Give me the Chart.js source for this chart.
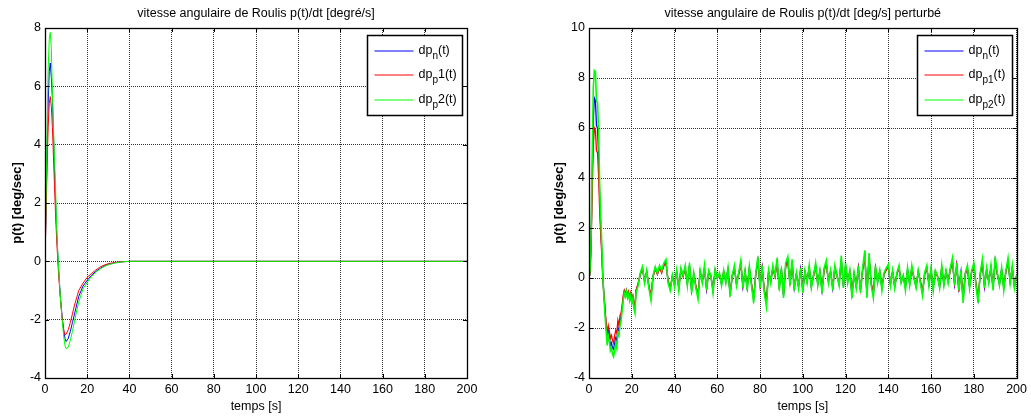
<!DOCTYPE html>
<html>
<head>
<meta charset="utf-8">
<script src="https://cdn.jsdelivr.net/npm/chart.js@4.4.1/dist/chart.umd.min.js"></script>
<style>
html, body { margin: 0; padding: 0; background: #fff; }
#wrap { position: relative; width: 1031px; height: 418px; overflow: hidden; }
canvas { position: absolute; top: 0; }
#c1 { left: 0; }
#c2 { left: 520px; }
</style>
</head>
<body>
<div id="wrap">
  <canvas id="c1" width="520" height="418"></canvas>
  <canvas id="c2" width="511" height="418"></canvas>
</div>
<script>
// ---- left plot: nominal response ----
const tLeft = [0, 0.5, 1, 1.5, 2, 2.5, 3, 3.5, 4, 4.5, 5, 5.5, 6, 6.5, 7, 7.5, 8, 8.5, 9, 9.5,
  10, 11, 12, 13, 14, 15, 16, 18, 20, 22, 24, 26, 28, 30, 33, 36, 40, 200];
const leftBlue = [0, 1.8, 3.8, 5.4, 6.5, 6.8, 6.3, 5.6, 4.4, 3.2, 2.1, 1.1, 0.3, -0.3, -0.9, -1.4, -1.8, -2.15, -2.45, -2.65,
  -2.75, -2.65, -2.4, -2.1, -1.8, -1.5, -1.2, -0.85, -0.65, -0.48, -0.35, -0.25, -0.16, -0.1, -0.05, -0.02, 0, 0];
const leftRed = [0, 1.6, 3.3, 4.6, 5.4, 5.65, 5.3, 4.6, 3.6, 2.6, 1.6, 0.8, 0.1, -0.5, -1.0, -1.45, -1.85, -2.15, -2.4, -2.52,
  -2.5, -2.35, -2.1, -1.8, -1.5, -1.25, -1.0, -0.75, -0.55, -0.42, -0.3, -0.2, -0.13, -0.08, -0.04, -0.015, 0, 0];
const leftGreen = [0, 2.2, 4.6, 6.6, 7.6, 7.85, 7.3, 5.8, 4.6, 3.5, 2.55, 1.2, 0.4, -0.3, -0.9, -1.45, -1.9, -2.3, -2.65, -2.9,
  -3.0, -2.95, -2.7, -2.4, -2.05, -1.7, -1.4, -0.95, -0.72, -0.52, -0.38, -0.27, -0.18, -0.12, -0.06, -0.02, 0, 0];
const leftLabels = ['dp_{n}(t)', 'dp_{p}1(t)', 'dp_{p}2(t)'];

// ---- right plot: disturbed response (0..22 s every 0.5 s, then every 1 s) ----
const tRight = [];
for (let i = 0; i <= 44; i++) tRight.push(i * 0.5);
for (let t = 23; t <= 200; t++) tRight.push(t);

const rightBlue = [
  0, 0.2, 1.5, 4.0, 6.3, 7.2, 7.1, 6.1, 6.0, 4.9, 3.2, 2.0, 1.1, 0.0, -0.7, -1.3, -1.9, -2.5, -2.1, -2.3,
  -2.7, -2.6, -2.8, -2.85, -2.6, -2.4, -2.5, -2.0, -2.1, -1.75, -1.55, -1.2, -0.8, -0.55, -0.7, -0.5, -0.75, -0.6, -0.85, -0.65,
  -0.9, -0.75, -1.1, -1.2, -0.5,
  -0.25, 0.15, 0.4, -0.15, 0.25, -0.35, -0.75, 0.1, 0.4, 0.15,
  0.4, 0.25, 0.5, 0.65, -0.15, -0.45, 0.1, -0.3, 0.25, -0.4,
  0.35, 0.1, 0.4, -0.25, 0.5, -0.5, 0.15, -0.35, -0.7, 0.25,
  -0.15, 0.4, -0.45, 0.25, 0.1, -0.5, 0.3, 0.0, 0.15, -0.25,
  0.25, -0.15, 0.35, -0.65, 0.1, 0.4, -0.25, 0.15, 0.6, -0.35,
  0.25, -0.4, 0.4, -0.25, -0.85, 0.15, 0.7, -0.35, 0.4, -0.5,
  -0.95, 0.25, -0.15, 0.4, 0.1, 0.65, -0.4, 0.35, -0.7, 0.5,
  0.7, -0.25, 0.6, -0.4, 0.15, -0.35, 0.35, -0.5, 0.25, -0.15,
  0.4, -0.35, 0.1, 0.5, -0.25, 0.25, -0.5, 0.35, 0.6, -0.15,
  0.25, -0.4, 0.4, 0.1, -0.25, 0.75, -0.35, 0.5, -0.15, 0.25,
  -0.65, 0.15, -0.35, 0.4, -0.5, 0.35, 0.9, -0.65, 0.85, -0.25,
  -0.65, 0.4, -0.15, 0.25, -0.4, 0.15, 0.35, 0.45, -0.25, 0.25,
  -0.35, 0.15, 0.4, -0.15, 0.1, -0.4, 0.35, -0.25, 0.4, 0.0,
  -0.35, 0.25, -0.15, -0.6, 0.15, 0.4, -0.25, 0.35, -0.4, 0.25,
  0.1, -0.35, 0.4, -0.25, 0.25, -0.15, 0.35, 0.65, -0.25, 0.5,
  -0.4, 0.25, -0.85, 0.15, 0.4, -0.35, 0.25, 0.5, -0.25, -0.85,
  0.15, 0.6, -0.35, 0.35, -0.15, 0.4, -0.4, 0.7, 0.15, -0.25,
  0.35, -0.4, 0.25, 0.65, -0.15, 0.4, -0.35, 0.1];
const rightRed = [
  0, 0.2, 1.3, 3.4, 5.3, 6.0, 5.9, 5.1, 5.0, 4.1, 2.7, 1.7, 0.9, -0.1, -0.7, -1.2, -1.8, -2.2, -1.9, -2.1,
  -2.4, -2.3, -2.5, -2.6, -2.3, -2.1, -2.2, -1.7, -1.9, -1.5, -1.4, -1.1, -0.7, -0.5, -0.65, -0.5, -0.7, -0.55, -0.8, -0.6,
  -0.85, -0.7, -1.0, -1.1, -0.5,
  -0.2, 0.15, 0.35, -0.1, 0.25, -0.3, -0.7, 0.05, 0.35, 0.15,
  0.4, 0.2, 0.5, 0.6, -0.1, -0.4, 0.05, -0.25, 0.25, -0.35,
  0.3, 0.05, 0.4, -0.2, 0.45, -0.45, 0.15, -0.3, -0.65, 0.25,
  -0.1, 0.35, -0.4, 0.25, 0.05, -0.45, 0.3, 0.0, 0.15, -0.2,
  0.25, -0.1, 0.3, -0.6, 0.05, 0.4, -0.2, 0.15, 0.55, -0.3,
  0.25, -0.35, 0.35, -0.2, -0.8, 0.15, 0.7, -0.3, 0.4, -0.45,
  -0.9, 0.25, -0.1, 0.4, 0.05, 0.6, -0.35, 0.3, -0.65, 0.45,
  0.65, -0.2, 0.6, -0.35, 0.15, -0.3, 0.3, -0.45, 0.25, -0.1,
  0.4, -0.3, 0.05, 0.45, -0.2, 0.25, -0.45, 0.3, 0.55, -0.1,
  0.25, -0.35, 0.4, 0.05, -0.2, 0.7, -0.3, 0.45, -0.1, 0.25,
  -0.6, 0.15, -0.3, 0.4, -0.45, 0.3, 0.85, -0.6, 0.8, -0.2,
  -0.6, 0.4, -0.1, 0.25, -0.35, 0.15, 0.3, 0.45, -0.2, 0.25,
  -0.3, 0.15, 0.4, -0.1, 0.05, -0.35, 0.3, -0.2, 0.4, 0.0,
  -0.3, 0.25, -0.1, -0.55, 0.15, 0.4, -0.2, 0.3, -0.35, 0.25,
  0.05, -0.3, 0.4, -0.2, 0.25, -0.1, 0.3, 0.65, -0.2, 0.5,
  -0.55, 0.25, -0.8, 0.15, 0.4, -0.3, 0.25, 0.5, -0.2, -0.8,
  0.15, 0.6, -0.3, 0.3, -0.1, 0.4, -0.35, 0.7, 0.15, -0.2,
  0.3, -0.35, 0.25, 0.65, -0.1, 0.4, -0.3, 0.05];
const rightGreen = [
  0, 0.3, 1.8, 4.8, 7.6, 8.3, 8.25, 7.1, 7.0, 5.9, 3.7, 2.4, 1.3, 0.0, -0.8, -1.5, -2.1, -2.7, -2.3, -2.5,
  -2.9, -2.8, -3.05, -3.15, -2.9, -2.6, -2.8, -2.2, -2.3, -1.9, -1.7, -1.3, -0.9, -0.6, -0.75, -0.55, -0.8, -0.65, -0.9, -0.7,
  -1.0, -0.8, -1.2, -1.4, -0.6,
  -0.3, 0.2, 0.45, -0.2, 0.3, -0.4, -0.9, 0.1, 0.45, 0.2,
  0.5, 0.3, 0.6, 0.75, -0.2, -0.5, 0.1, -0.35, 0.3, -0.5,
  0.4, 0.1, 0.5, -0.3, 0.6, -0.6, 0.2, -0.4, -0.85, 0.3,
  -0.2, 0.5, -0.5, 0.3, 0.1, -0.6, 0.35, 0.0, 0.2, -0.3,
  0.3, -0.2, 0.4, -0.75, 0.1, 0.5, -0.3, 0.2, 0.7, -0.4,
  0.3, -0.5, 0.45, -0.3, -1.0, 0.2, 0.85, -0.4, 0.5, -0.6,
  -1.15, 0.3, -0.2, 0.5, 0.1, 0.8, -0.5, 0.4, -0.8, 0.6,
  0.85, -0.3, 0.75, -0.5, 0.2, -0.4, 0.4, -0.6, 0.3, -0.2,
  0.5, -0.4, 0.1, 0.6, -0.3, 0.3, -0.6, 0.4, 0.7, -0.2,
  0.3, -0.5, 0.5, 0.1, -0.3, 0.9, -0.4, 0.6, -0.2, 0.3,
  -0.8, 0.2, -0.4, 0.5, -0.6, 0.4, 1.1, -0.8, 1.0, -0.3,
  -0.8, 0.5, -0.2, 0.3, -0.5, 0.2, 0.4, 0.55, -0.3, 0.3,
  -0.4, 0.2, 0.5, -0.2, 0.1, -0.5, 0.4, -0.3, 0.5, 0.0,
  -0.4, 0.3, -0.2, -0.7, 0.2, 0.5, -0.3, 0.4, -0.5, 0.3,
  0.1, -0.4, 0.5, -0.3, 0.3, -0.2, 0.4, 0.8, -0.3, 0.6,
  -0.5, 0.3, -1.0, 0.2, 0.5, -0.4, 0.3, 0.6, -0.3, -1.0,
  0.2, 0.75, -0.4, 0.4, -0.2, 0.5, -0.5, 0.85, 0.2, -0.3,
  0.4, -0.5, 0.3, 0.8, -0.2, 0.5, -0.4, 0.1];
const rightLabels = ['dp_{n}(t)', 'dp_{p1}(t)', 'dp_{p2}(t)'];

const xTicks = [0, 200, 20];
const FONT = 'Arial, "Liberation Sans", Helvetica, sans-serif';
const COLORS = ['#0000ff', '#ff0000', '#00ff00'];

function pts(ts, ys) { return ts.map((t, i) => ({ x: t, y: ys[i] })); }

// box with inward ticks (matlab style) + legend with subscripts
const framePlugin = {
  id: 'frame',
  afterDatasetsDraw(chart) {
    const { ctx, chartArea: a, scales } = chart;
    ctx.save();
    ctx.setLineDash([]);
    ctx.strokeStyle = '#000';
    ctx.lineWidth = 1;
    ctx.beginPath();
    scales.x.ticks.forEach(tk => {
      const px = Math.round(scales.x.getPixelForValue(tk.value)) + 0.5;
      ctx.moveTo(px, a.bottom); ctx.lineTo(px, a.bottom - 4);
      ctx.moveTo(px, a.top); ctx.lineTo(px, a.top + 4);
    });
    scales.y.ticks.forEach(tk => {
      const py = Math.round(scales.y.getPixelForValue(tk.value)) + 0.5;
      ctx.moveTo(a.left, py); ctx.lineTo(a.left + 4, py);
      ctx.moveTo(a.right, py); ctx.lineTo(a.right - 4, py);
    });
    ctx.stroke();
    ctx.lineWidth = 1.3;
    ctx.strokeRect(Math.round(a.left) + 0.5, Math.round(a.top) + 0.5, Math.round(a.width), Math.round(a.height));

    // legend
    const w = 95, h = 80;
    const x0 = Math.round(a.right - w - 5) + 0.5, y0 = Math.round(a.top + 7) + 0.5;
    ctx.fillStyle = '#fff';
    ctx.fillRect(x0, y0, w, h);
    ctx.lineWidth = 1.5;
    ctx.strokeRect(x0, y0, w, h);
    chart.data.datasets.forEach((ds, i) => {
      const y = Math.round(y0 + 15 + i * 24.5);
      ctx.beginPath();
      ctx.strokeStyle = COLORS[i];
      ctx.lineWidth = 1;
      ctx.moveTo(x0 + 7, y); ctx.lineTo(x0 + 46, y);
      ctx.stroke();
      const m = ds.label.match(/^(.*?)_\{(.*?)\}(.*)$/);
      ctx.fillStyle = '#000';
      ctx.textBaseline = 'middle';
      let tx = x0 + 51;
      ctx.font = '12.5px ' + FONT;
      ctx.fillText(m[1], tx, y); tx += ctx.measureText(m[1]).width;
      ctx.font = '10px ' + FONT;
      ctx.fillText(m[2], tx, y + 5); tx += ctx.measureText(m[2]).width;
      ctx.font = '12.5px ' + FONT;
      ctx.fillText(m[3], tx, y);
    });
    ctx.restore();
  }
};

function makeChart(id, t, blue, red, green, labels, yMin, yMax, title, yAxisW, padRight, yTitlePad, noisy) {
  const series = [blue, red, green];
  return new Chart(document.getElementById(id), {
    type: 'line',
    data: {
      datasets: series.map((s, i) => ({
        label: labels[i],
        data: pts(t, s),
        borderColor: COLORS[i],
        borderWidth: noisy ? (i === 2 ? 1.6 : 1.3) : 1,
        pointRadius: 0,
        tension: 0,
        order: 3 - i
      }))
    },
    options: {
      responsive: false,
      animation: false,
      events: [],
      layout: { padding: { left: 0, right: padRight, top: 0, bottom: 0 } },
      plugins: {
        legend: { display: false },
        tooltip: { enabled: false },
        title: {
          display: true, text: title, color: '#000', fullSize: false,
          font: { family: FONT, size: 12.5, weight: 'normal' },
          padding: { top: 6.5, bottom: 6.5 }
        }
      },
      scales: {
        x: {
          type: 'linear', min: xTicks[0], max: xTicks[1],
          afterFit(s) { s.height = 40; },
          ticks: { stepSize: xTicks[2], color: '#000', padding: 4, maxRotation: 0, font: { family: FONT, size: 12.5 } },
          grid: { color: '#333', lineWidth: 1, drawTicks: false },
          border: { display: false, dash: [1, 1] },
          title: { display: true, text: 'temps [s]', color: '#000', font: { family: FONT, size: 12.5 }, padding: { top: 0, bottom: 3.5 } }
        },
        y: {
          min: yMin, max: yMax,
          afterFit(s) { s.width = yAxisW; },
          ticks: { stepSize: 2, color: '#000', padding: 4, font: { family: FONT, size: 12.5 } },
          grid: { color: '#333', lineWidth: 1, drawTicks: false },
          border: { display: false, dash: [1, 1] },
          title: { display: true, text: 'p(t) [deg/sec]', color: '#000', font: { family: FONT, size: 13, weight: 'bold' }, padding: { top: yTitlePad, bottom: 0 } }
        }
      }
    },
    plugins: [framePlugin]
  });
}

makeChart('c1', tLeft, leftBlue, leftRed, leftGreen, leftLabels, -4, 8,
  'vitesse angulaire de Roulis p(t)/dt [degré/s]', 45, 53, 10, false);
makeChart('c2', tRight, rightBlue, rightRed, rightGreen, rightLabels, -4, 10,
  'vitesse angulaire de Roulis p(t)/dt [deg/s] perturbé', 69, 14, 32, true);
</script>
</body>
</html>
